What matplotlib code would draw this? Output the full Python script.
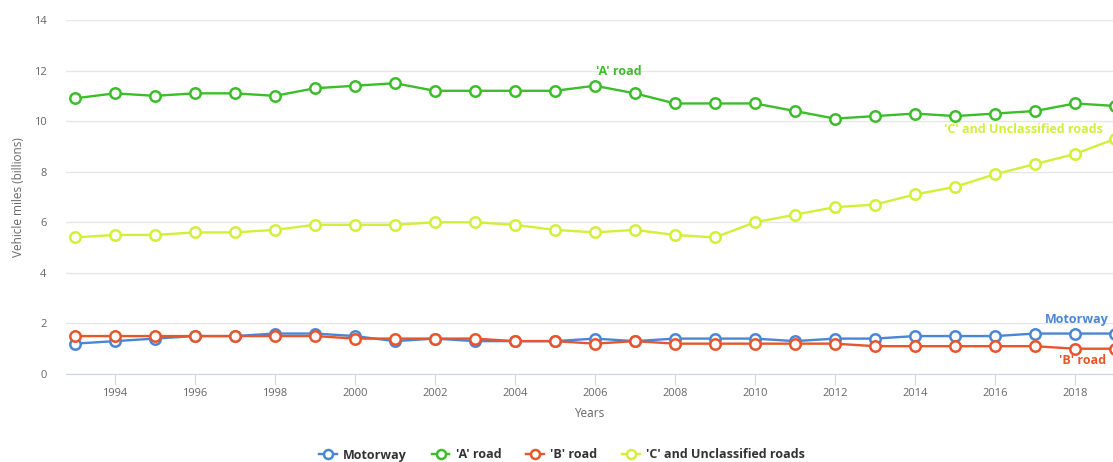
import matplotlib
matplotlib.use("Agg")
import matplotlib.pyplot as plt
from matplotlib.lines import Line2D

years = list(range(1993, 2020))
motorway = [1.2, 1.3, 1.4, 1.5, 1.5, 1.6, 1.6, 1.5, 1.3, 1.4, 1.3, 1.3, 1.3, 1.4, 1.3,
            1.4, 1.4, 1.4, 1.3, 1.4, 1.4, 1.5, 1.5, 1.5, 1.6, 1.6, 1.6]
a_road = [10.9, 11.1, 11.0, 11.1, 11.1, 11.0, 11.3, 11.4, 11.5, 11.2, 11.2, 11.2, 11.2, 11.4,
          11.1, 10.7, 10.7, 10.7, 10.4, 10.1, 10.2, 10.3, 10.2, 10.3, 10.4, 10.7, 10.6]
b_road = [1.5, 1.5, 1.5, 1.5, 1.5, 1.5, 1.5, 1.4, 1.4, 1.4, 1.4, 1.3, 1.3, 1.2, 1.3,
          1.2, 1.2, 1.2, 1.2, 1.2, 1.1, 1.1, 1.1, 1.1, 1.1, 1.0, 1.0]
c_road = [5.4, 5.5, 5.5, 5.6, 5.6, 5.7, 5.9, 5.9, 5.9, 6.0, 6.0, 5.9, 5.7, 5.6, 5.7,
          5.5, 5.4, 6.0, 6.3, 6.6, 6.7, 7.1, 7.4, 7.9, 8.3, 8.7, 9.3]

series_names = ["Motorway", "'A' road", "'B' road", "'C' and Unclassified roads"]
series_values = [motorway, a_road, b_road, c_road]
colors = ["#4a86d6", "#3cbd2a", "#e8552a", "#d2ef3a"]

plt.rcParams['font.family'] = ['Open Sans', 'DejaVu Sans']

fig = plt.figure(figsize=(11.13, 4.62), dpi=100)
ax = fig.add_axes([66/1113, 1 - 374/462, 1 - 66/1113, (374 - 20)/462])

for name, vals, col in zip(series_names, series_values, colors):
    ax.plot(years, vals, color=col, lw=1.7, marker='o', ms=7.5, mfc='white',
            mec=col, mew=1.8, zorder=3, clip_on=True)

ax.set_xlim(1992.78, 2018.95)
ax.set_ylim(0, 14)
ax.set_yticks(range(0, 15, 2))
ax.set_xticks(range(1994, 2019, 2))
ax.grid(axis='y', color='#e6e6e6', lw=1)
ax.set_axisbelow(True)
for s in ['top', 'right', 'left']:
    ax.spines[s].set_visible(False)
ax.spines['bottom'].set_color('#ccd6eb')
ax.tick_params(axis='y', length=0, labelsize=8, labelcolor='#666666', pad=14)
ax.tick_params(axis='x', length=8, color='#ccd6eb', labelsize=8, labelcolor='#666666', pad=2)
ax.set_xlabel('Years', fontsize=8.5, color='#666666', labelpad=6)
ax.set_ylabel('Vehicle miles (billions)', fontsize=8.5, color='#666666', labelpad=6)

lab_kw = dict(fontsize=9, fontweight='bold', zorder=4)
ax.text(2006.6, 11.95, "'A' road", color=colors[1], ha='center', va='center', **lab_kw)
ax.text(2016.7, 9.65, "'C' and Unclassified roads", color=colors[3], ha='center', va='center', **lab_kw)
ax.text(2018.85, 2.15, "Motorway", color=colors[0], ha='right', va='center', **lab_kw)
ax.text(2018.2, 0.55, "'B' road", color=colors[2], ha='center', va='center', **lab_kw)

handles = [Line2D([0], [0], color=c, lw=1.7, marker='o', ms=6.5, mfc='white', mec=c, mew=1.8)
           for c in colors]
fig.legend(handles, series_names, loc='center', bbox_to_anchor=(562/1113, 1 - 455/462),
           ncol=4, frameon=False, handlelength=1.4, columnspacing=2.0,
           handletextpad=0.5, prop={'weight': 'bold', 'size': 9})
for t in fig.legends[0].get_texts():
    t.set_color('#333333')

fig.savefig('out.png', dpi=100)
